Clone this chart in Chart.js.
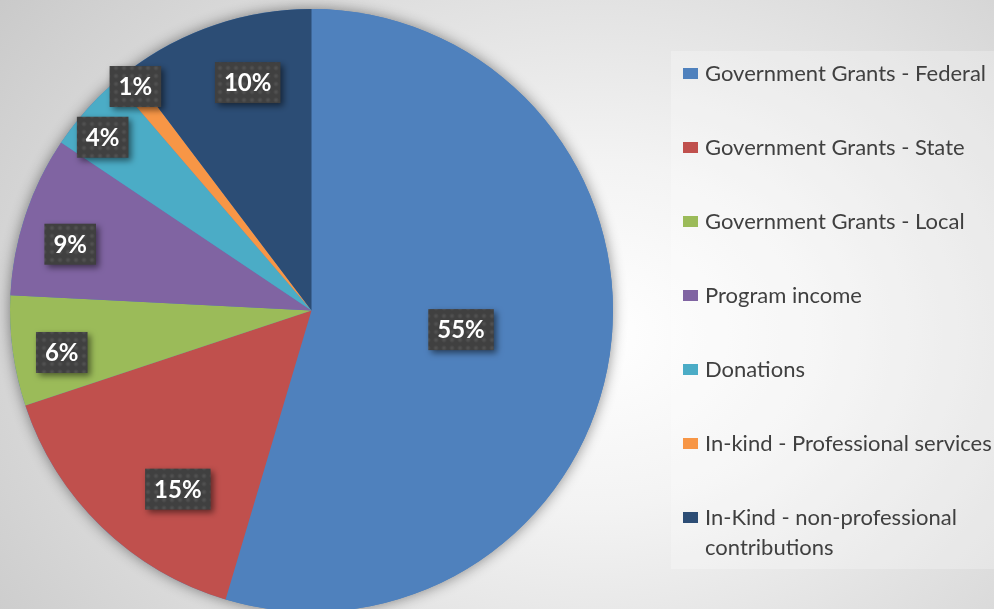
<!DOCTYPE html>
<html>
<head>
<meta charset="utf-8">
<script src="https://cdn.jsdelivr.net/npm/chart.js@4.4.1/dist/chart.umd.min.js"></script>
<style>
    html, body {
        margin: 0;
        padding: 0;
        width: 994px;
        height: 609px;
        overflow: hidden;
    }
    body {
        position: relative;
        background: radial-gradient(ellipse 75% 95% at 60% 55%, #ffffff 0%, #f3f3f3 30%, #d2d2d2 85%, #c9c9c9 100%);
        font-family: Lato, "Open Sans", sans-serif;
    }
    #chartBox {
        position: absolute;
        left: 0;
        top: 0;
        width: 994px;
        height: 640px;
    }
    #legendPanel {
        position: absolute;
        left: 671px;
        top: 51px;
        width: 323px;
        height: 518px;
        background: rgba(255, 255, 255, 0.25);
    }
    #legend {
        position: absolute;
        left: 683px;
        top: 58px;
        width: 316px;
        margin: 0;
        padding: 0;
        list-style: none;
    }
    #legend li {
        position: relative;
        padding-left: 22px;
        height: 74px;
        font-size: 22px;
        line-height: 30px;
        color: #404040;
    }
    #legend li span.box {
        position: absolute;
        left: 0;
        top: 10px;
        width: 15px;
        height: 11px;
    }
</style>
</head>
<body>
<div id="legendPanel"></div>
<div id="chartBox"><canvas id="pieChart" width="994" height="640"></canvas></div>
<ul id="legend"></ul>

<script>
// 数据
const categories = [
    'Government Grants - Federal',
    'Government Grants - State',
    'Government Grants - Local',
    'Program income',
    'Donations',
    'In-kind - Professional services',
    'In-Kind - non-professional contributions'
];
const shares = [54.6, 15.3, 5.9, 8.6, 4.3, 1.0, 10.3];
const sliceColors = ['#4F81BD', '#C0504D', '#9BBB59', '#8064A2', '#4BACC6', '#F79646', '#2C4D75'];

// 标签位置（半径比例 / 角度微调，度）
const labelRadius = [0.50, 0.74, 0.84, 0.83, 0.90, 0.945, 0.785];
const labelNudge = [-1, -7.3, -1.8, -3, -1.9, 0.7, 2.9];

// 标签背景的点状纹理
function makePattern(ctx) {
    const p = document.createElement('canvas');
    p.width = 8;
    p.height = 8;
    const pc = p.getContext('2d');
    pc.fillStyle = '#404040';
    pc.fillRect(0, 0, 8, 8);
    const g = pc.createRadialGradient(4, 4, 0, 4, 4, 3);
    g.addColorStop(0, 'rgba(90,90,90,0.8)');
    g.addColorStop(1, 'rgba(90,90,90,0)');
    pc.fillStyle = g;
    pc.fillRect(0, 0, 8, 8);
    return ctx.createPattern(p, 'repeat');
}

// 饼图阴影
const pieShadow = {
    id: 'pieShadow',
    beforeDatasetsDraw(chart) {
        const arc = chart.getDatasetMeta(0).data[0];
        if (!arc) return;
        const { x, y, outerRadius } = arc.getProps(['x', 'y', 'outerRadius'], true);
        const ctx = chart.ctx;
        ctx.save();
        ctx.shadowColor = 'rgba(0,0,0,0.45)';
        ctx.shadowBlur = 14;
        ctx.beginPath();
        ctx.arc(x, y, outerRadius, 0, Math.PI * 2);
        ctx.fillStyle = '#4F81BD';
        ctx.fill();
        ctx.restore();
    }
};

// 百分比标签
const boxLabels = {
    id: 'boxLabels',
    afterDatasetsDraw(chart) {
        const ctx = chart.ctx;
        const meta = chart.getDatasetMeta(0);
        const values = chart.data.datasets[0].data;
        const total = values.reduce((a, b) => a + b, 0);
        const pattern = makePattern(ctx);
        ctx.save();
        ctx.font = 'bold 24px Lato, "Open Sans", sans-serif';
        ctx.textAlign = 'center';
        ctx.textBaseline = 'middle';
        meta.data.forEach((arc, i) => {
            const p = arc.getProps(['x', 'y', 'startAngle', 'endAngle', 'outerRadius'], true);
            const mid = (p.startAngle + p.endAngle) / 2 + labelNudge[i] * Math.PI / 180;
            const r = p.outerRadius * labelRadius[i];
            const cx = p.x + Math.cos(mid) * r;
            const cy = p.y + Math.sin(mid) * r;
            const text = Math.round(values[i] / total * 100) + '%';
            const w = ctx.measureText(text).width + 18;
            const h = 41;
            ctx.save();
            ctx.shadowColor = 'rgba(0,0,0,0.5)';
            ctx.shadowBlur = 6;
            ctx.shadowOffsetX = 3;
            ctx.shadowOffsetY = 3;
            ctx.fillStyle = pattern;
            ctx.fillRect(cx - w / 2, cy - h / 2, w, h);
            ctx.restore();
            ctx.fillStyle = '#ffffff';
            ctx.fillText(text, cx, cy + 1);
        });
        ctx.restore();
    }
};

new Chart(document.getElementById('pieChart'), {
    type: 'pie',
    data: {
        labels: categories,
        datasets: [{
            data: shares,
            backgroundColor: sliceColors,
            borderWidth: 0
        }]
    },
    options: {
        responsive: false,
        animation: false,
        layout: {
            padding: { left: 10, top: 9, right: 381, bottom: 28 }
        },
        plugins: {
            legend: { display: false },
            tooltip: { enabled: false }
        }
    },
    plugins: [pieShadow, boxLabels]
});

// 图例
const legendEl = document.getElementById('legend');
legendEl.innerHTML = categories.map((c, i) =>
    `<li><span class="box" style="background:${sliceColors[i]}"></span>${c}</li>`
).join('');
</script>
</body>
</html>
